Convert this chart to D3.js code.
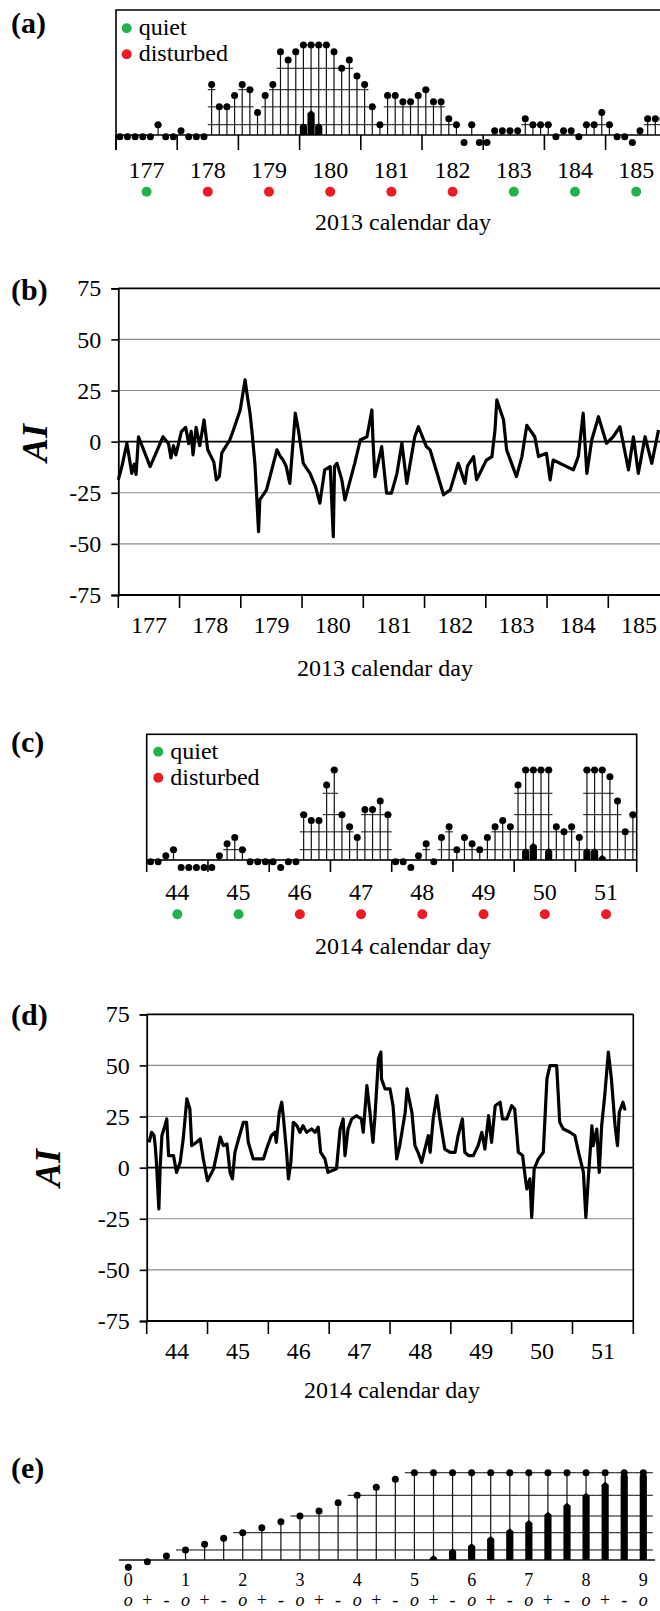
<!DOCTYPE html>
<html>
<head>
<meta charset="utf-8">
<script src="https://cdn.jsdelivr.net/npm/d3@7"></script>
<style>
  body { margin: 0; background: #fff; }
  svg { display: block; font-family: "Liberation Serif", "Times New Roman", serif; }
  .tick text { font-family: "Liberation Serif", serif; }
</style>
</head>
<body>
<svg id="fig" width="660" height="1611"></svg>
<script>
// K-index levels, their stick heights (5o = 100) and overflow bar heights
var kLevels = ["0o","0+","1-","1o","1+","2-","2o","2+","3-","3o","3+","4-","4o","4+","5-","5o",
               "5+","6-","6o","6+","7-","7o","7+","8-","8o","8+","9-","9o"];
var stickHeight = [-8.4,-1.9,4.6,11.5,18,24.9,31.3,37,43.9,50.4,56.1,65.6,74.1,83.3,92.4,100];
var barHeight = [5.7,13.4,19.1,27.5,36.3,45.8,55.3,65.6,77.1,89.7,100,100];
var gridLevels = ["1o","2o","3o","4o","5o"];

// (a) 2013, 3-hour K values, days 177-185
var days2013 = [177,178,179,180,181,182,183,184,185];
var quiet2013 = [true,false,false,false,false,false,true,true,true];
var k2013 = [
  "0+","0+","0+","0+","0+","1o","0+","0+",
  "1-","0+","0+","0+","3+","2o","2o","3-",
  "3+","3o","2-","3-","3+","5-","4+","5-",
  "6-","6+","6-","5o","5-","4o","4+","4-",
  "3+","2o","1o","3-","3-","2+","2+","3-",
  "3o","2+","2+","1+","1o","0o","1o","0o",
  "0o","1-","1-","1-","1-","1+","1o","1o",
  "1o","0+","1-","1-","0+","1o","1o","2-",
  "1o","0+","0+","0o","1-","1+","1+","1+"];

// (b) AI 2013
var aiDay2013 = [177.00,177.06,177.14,177.18,177.22,177.26,177.29,177.33,177.52,177.73,177.82,177.86,177.90,177.94,
  178.03,178.10,178.15,178.19,178.22,178.27,178.33,178.40,178.46,178.56,178.60,178.65,178.69,178.82,178.88,178.99,
  179.07,179.10,179.15,179.18,179.23,179.26,179.29,179.31,179.42,179.59,179.64,179.69,179.74,179.80,179.86,179.89,179.94,
  180.02,180.13,180.22,180.29,180.37,180.46,180.51,180.53,180.57,180.65,180.70,180.86,180.95,
  181.06,181.14,181.16,181.19,181.30,181.38,181.46,181.55,181.63,181.71,181.84,181.90,
  182.03,182.09,182.31,182.42,182.55,182.60,182.66,182.70,182.80,182.85,
  183.01,183.10,183.15,183.18,183.29,183.34,183.50,183.59,183.67,183.80,183.86,183.99,
  184.05,184.10,184.43,184.51,184.59,184.65,184.73,184.84,184.97,
  185.08,185.19,185.33,185.41,185.49,185.60,185.71,185.82];
var aiVal2013 = [-18.7,-12,-0.8,-8,-15.5,-11,-16,2.4,-12.2,2.4,-1,-8,-2,-6.5,
  4.9,7,-1,5,-6.5,7,-2,10.6,-4,-10,-18.7,-17,-5.5,0.8,5.7,15.5,
  30.2,23.7,13.9,5.7,-10.6,-26.9,-44,-28.5,-23.6,-4,-7,-9,-12,-20.4,2.4,13.9,5.7,
  -10.6,-15.5,-22,-30.1,-13.8,-12.2,-46.5,-12,-10.6,-18.7,-28.5,-10.6,0.8,
  2.4,15.5,-0.8,-17.1,-2.4,-25.2,-25.2,-15.5,-0.8,-20.4,2.4,7.3,
  -2.4,-4,-26,-23.6,-10.6,-15,-20.4,-12,-7.3,-18.7,
  -9,-7.3,5.7,20.4,10.6,-4,-17.1,-7.3,8,2.4,-7.3,-5.7,
  -18.7,-9,-13.8,-7.3,13.9,-15.5,0.8,12.2,-0.8,
  2.4,7.3,-13.8,2.4,-15.5,2.4,-10.6,5.7];

// (c) 2014, 3-hour K values, days 44-51
var days2014 = [44,45,46,47,48,49,50,51];
var quiet2014 = [true,true,false,false,false,false,false,false];
var k2014 = [
  "0+","0+","1-","1o","0o","0o","0o","0o",
  "0o","1-","1+","2-","1o","0+","0+","0+",
  "0+","0o","0+","0+","3o","3-","3-","4+",
  "5o","3o","2+","2-","3+","3+","4-","3o",
  "0+","0+","0o","1-","1+","0+","2-","2+",
  "1o","2-","1+","1o","2-","2+","3-","2+",
  "4+","6-","6o","5o","6-","2+","2o","2+",
  "2-","6-","6-","5+","5-","4-","2o","3o"];

// (d) AI 2014
var aiDay2014 = [44.04,44.08,44.12,44.14,44.16,44.20,44.22,44.25,44.30,44.33,44.36,44.44,44.49,44.55,44.60,44.66,44.71,44.74,44.82,44.88,44.93,
  45.00,45.10,45.21,45.26,45.32,45.37,45.41,45.45,45.51,45.59,45.64,45.67,45.75,45.84,45.92,45.97,
  46.05,46.11,46.13,46.18,46.22,46.25,46.30,46.33,46.37,46.41,46.47,46.52,46.57,46.63,46.71,46.77,46.82,46.86,46.93,46.98,
  47.12,47.18,47.23,47.26,47.31,47.37,47.45,47.53,47.56,47.62,47.67,47.72,47.75,47.81,47.85,47.86,47.92,
  48.00,48.05,48.11,48.16,48.25,48.28,48.36,48.41,48.46,48.52,48.56,48.63,48.66,48.71,48.77,48.82,48.90,48.99,
  49.07,49.12,49.19,49.23,49.29,49.37,49.45,49.51,49.56,49.62,49.67,49.73,49.81,49.85,49.92,
  50.00,50.05,50.11,50.18,50.22,50.25,50.30,50.33,50.37,50.44,50.52,50.58,50.63,50.74,50.77,50.79,50.85,50.96,
  51.04,51.10,51.18,51.22,51.26,51.32,51.34,51.40,51.44,51.48,51.53,51.59,51.64,51.70,51.74,51.77,51.83,51.86,51.88];
var aiVal2014 = [12.4,17.3,15.7,10.8,2.6,-20.2,-0.6,15.7,20.5,23.8,5.9,5.9,-2.3,2.6,14,33.6,28.7,10.8,12.4,14,4.3,
  -6.4,-0.6,14.9,10.8,11.6,-2.3,-5.5,7.5,14,22.2,22.2,12.4,4.3,4.3,4.3,9.1,
  15.7,17.3,12.4,27.1,32,23.8,7.5,-5.5,2.6,22.2,20.5,17.3,20.5,17.3,18.9,17.3,19.8,7.5,4.3,-2.3,
  -0.6,18.9,23.8,5.9,18.9,23.8,25.4,23.8,17.3,40.1,27.1,12.4,23.8,53.2,56.5,43.4,38.5,
  38.5,30.3,4.3,10.8,27.1,38.5,27.1,10.8,7.5,2.6,7.5,15.7,7.5,23.8,35.2,23.8,9.1,7.5,
  7.5,15.7,23.8,7.5,5.9,5.9,10.8,17.3,9.1,25.4,12.4,30.3,32,23.8,23.8,
  30.3,28.7,7.5,5.9,-3.9,-10.4,-5.5,-24.3,-0.6,4.3,7.5,43.4,49.9,49.9,33.6,22.2,18.9,17.3,
  15.7,7.5,-2.3,-24.3,-5.5,20.5,10.8,18.9,-2.3,20.5,35.2,56.5,43.4,20.5,10.8,27.1,32,28.7,29];

var aiTicks = [-75,-50,-25,0,25,50,75];

var svg = d3.select("#fig");
var green = "#22b14c", red = "#ed1c24";

function kIndex(k) { return kLevels.indexOf(k); }

// stick-plot symbols on a baseline
function sticks(g, ks, xAt, halfStep, y, rightEnd) {
  var gl = g.append("g").attr("stroke", "#222").attr("stroke-width", 1.1);
  ks.forEach(function (k, i) {
    var idx = kIndex(k);
    var x = xAt(i);
    gridLevels.forEach(function (L) {
      var li = kIndex(L);
      if (idx >= li) {
        gl.append("line")
          .attr("x1", x - halfStep).attr("x2", Math.min(x + halfStep, rightEnd))
          .attr("y1", y(stickHeight[li])).attr("y2", y(stickHeight[li]));
      }
    });
  });
  ks.forEach(function (k, i) {
    var idx = kIndex(k);
    var x = xAt(i);
    var h = stickHeight[Math.min(idx, 15)];
    if (h > 0) {
      g.append("line").attr("x1", x).attr("x2", x)
        .attr("y1", y(0)).attr("y2", y(h))
        .attr("stroke", "#111").attr("stroke-width", 1.2);
    }
    if (idx > 15) {
      var top = y(barHeight[idx - 16]), w = 3.6;
      g.append("path")
        .attr("d", "M" + (x - w) + "," + y(0) + "V" + (top + 3) + "L" + x + "," + top +
              "L" + (x + w) + "," + (top + 3) + "V" + y(0) + "Z")
        .attr("fill", "#000");
    }
    g.append("circle").attr("cx", x).attr("cy", y(h)).attr("r", 3.5).attr("fill", "#000");
  });
}

function panelLabel(t, x, y) {
  svg.append("text").attr("x", x).attr("y", y).text(t)
    .attr("font-size", 30).attr("font-weight", "bold");
}

function legend(x, y) {
  [["quiet", green], ["disturbed", red]].forEach(function (d, i) {
    svg.append("circle").attr("cx", x).attr("cy", y + i * 26).attr("r", 5).attr("fill", d[1]);
    svg.append("text").attr("x", x + 12).attr("y", y + i * 26 + 7).text(d[0]).attr("font-size", 24);
  });
}

function dayAxis(days, quiet, x, yAxis, tickLen, labelY, dotY, titleY, titleX, title, tickStroke) {
  var g = svg.append("g");
  days.concat([days[days.length - 1] + 1]).forEach(function (d) {
    g.append("line").attr("x1", x(d)).attr("x2", x(d))
      .attr("y1", yAxis).attr("y2", yAxis + tickLen)
      .attr("stroke", "#000").attr("stroke-width", tickStroke);
  });
  g.selectAll("text.day").data(days).enter().append("text")
    .attr("x", function (d) { return x(d + 0.5); }).attr("y", labelY)
    .attr("text-anchor", "middle").attr("font-size", 24).text(function (d) { return d; });
  if (quiet) {
    g.selectAll("circle").data(days).enter().append("circle")
      .attr("cx", function (d) { return x(d + 0.5); }).attr("cy", dotY).attr("r", 5)
      .attr("fill", function (d, i) { return quiet[i] ? green : red; });
  }
  g.append("text").attr("x", titleX).attr("y", titleY).attr("text-anchor", "middle")
    .attr("font-size", 24).text(title);
}

// ---------- (a) ----------
(function () {
  var x = d3.scaleLinear().domain([177, 186]).range([116, 116 + 9 * 61.2]);
  var y = d3.scaleLinear().domain([0, 100]).range([135, 45]);
  var g = svg.append("g");
  sticks(g, k2013, function (i) { return x(177 + (i + 0.5) / 8); }, 61.2 / 16, y, 660);
  g.append("path").attr("d", "M116,150V10H660").attr("fill", "none").attr("stroke", "#000").attr("stroke-width", 1.6);
  g.append("line").attr("x1", 116).attr("x2", 660).attr("y1", 135).attr("y2", 135).attr("stroke", "#000").attr("stroke-width", 1.6);
  dayAxis(days2013, quiet2013, x, 135, 15, 178, 191.7, 230, 403, "2013 calendar day", 1.6);
  legend(126.7, 28.3);
  panelLabel("(a)", 11, 33);
})();

// ---------- AI panels ----------
function aiPanel(days, xs, vs, left, right, top, bottom, dayLeft, dayRight, labelX, aiX, aiY, title, titleX, titleY, lbl, lblY, rightBorder) {
  var x = d3.scaleLinear().domain([dayLeft, dayRight]).range([left, right]);
  var y = d3.scaleLinear().domain([-75, 75]).range([bottom, top]);
  var g = svg.append("g");
  aiTicks.forEach(function (t) {
    var heavy = (t === 0 || t === 75 || t === -75);
    g.append("line").attr("x1", left).attr("x2", rightBorder ? right : 660)
      .attr("y1", y(t)).attr("y2", y(t))
      .attr("stroke", heavy ? "#000" : "#8a8a8a").attr("stroke-width", heavy ? 1.8 : 1.1);
  });
  if (rightBorder) {
    g.append("line").attr("x1", right).attr("x2", right).attr("y1", top).attr("y2", bottom)
      .attr("stroke", "#000").attr("stroke-width", 1.6);
  }
  var ya = g.append("g").attr("transform", "translate(" + left + ",0)")
    .call(d3.axisLeft(y).tickValues(aiTicks).tickSize(7).tickPadding(labelX)
      .tickFormat(function (d) { return String(d); }));
  ya.select(".domain").attr("stroke-width", 1.8);
  ya.selectAll(".tick line").attr("stroke-width", 1.6);
  ya.selectAll(".tick text").attr("font-size", 24).attr("font-family", "Liberation Serif").attr("fill", "#000");
  var line = d3.line().x(function (d) { return x(d[0]); }).y(function (d) { return y(d[1]); });
  g.append("path").datum(xs.map(function (d, i) { return [d, vs[i]]; }))
    .attr("d", line).attr("fill", "none").attr("stroke", "#000")
    .attr("stroke-width", 3.2).attr("stroke-linejoin", "round");
  dayAxis(days, null, x, bottom, 13, bottom + 38, 0, titleY, titleX, title, 1.6);
  svg.append("text").attr("transform", "translate(" + aiX + "," + aiY + ") rotate(-90)")
    .attr("text-anchor", "middle").attr("font-size", 36).attr("font-weight", "bold")
    .attr("font-style", "italic").text("AI");
  panelLabel(lbl, 11, lblY);
}

aiPanel(days2013, aiDay2013, aiVal2013, 118.3, 118.3 + 9 * 61.25, 288.3, 595, 177, 186, 10, 47, 443,
        "2013 calendar day", 385, 676, "(b)", 300, false);

// ---------- (c) ----------
(function () {
  var x = d3.scaleLinear().domain([44, 52]).range([146.7, 636.7]);
  var y = d3.scaleLinear().domain([0, 100]).range([860, 770]);
  var g = svg.append("g");
  sticks(g, k2014, function (i) { return x(44 + (i + 0.5) / 8); }, 61.25 / 16, y, 636.7);
  g.append("rect").attr("x", 146.7).attr("y", 734.3).attr("width", 490).attr("height", 125.7)
    .attr("fill", "none").attr("stroke", "#000").attr("stroke-width", 1.6);
  dayAxis(days2014, quiet2014, x, 860, 12, 900, 914.3, 954, 403, "2014 calendar day", 1.6);
  legend(158.3, 751.7);
  panelLabel("(c)", 11, 752);
})();

aiPanel(days2014, aiDay2014, aiVal2014, 146.7, 633.3, 1014.3, 1321, 44, 52, 10, 60, 1168,
        "2014 calendar day", 392, 1398, "(d)", 1025, true);

// ---------- (e) ----------
(function () {
  var x = d3.scalePoint().domain(kLevels).range([128.3, 643.3]);
  var y = d3.scaleLinear().domain([0, 100]).range([1560, 1472.7]);
  var g = svg.append("g");
  g.append("line").attr("x1", 119).attr("x2", 655).attr("y1", 1560).attr("y2", 1560)
    .attr("stroke", "#111").attr("stroke-width", 1.3);
  sticks(g, kLevels, function (i) { return x(kLevels[i]); }, x.step() / 2, y, 655);
  kLevels.forEach(function (k) {
    var sub = k.charAt(1);
    if (sub === "o") {
      g.append("text").attr("x", x(k)).attr("y", 1586).attr("text-anchor", "middle")
        .attr("font-size", 18).text(k.charAt(0));
    }
    g.append("text").attr("x", x(k)).attr("y", 1606).attr("text-anchor", "middle")
      .attr("font-size", 18).attr("font-style", sub === "o" ? "italic" : "normal").text(sub);
  });
  panelLabel("(e)", 11, 1478);
})();
</script>
</body>
</html>
